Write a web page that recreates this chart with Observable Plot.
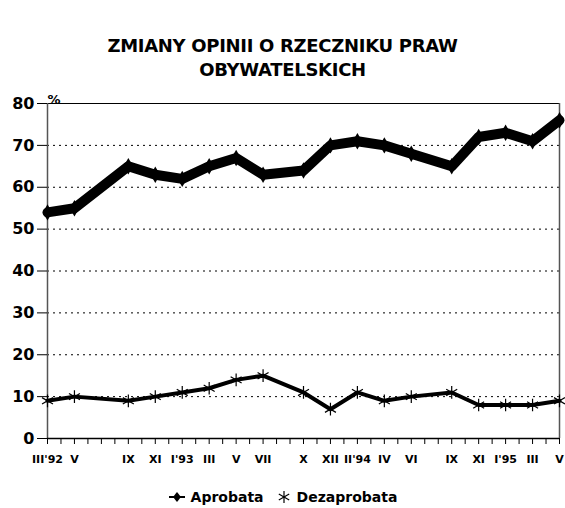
<!DOCTYPE html>
<html>
<head>
<meta charset="utf-8">
<script src="https://cdn.jsdelivr.net/npm/d3@7"></script>
<script src="https://cdn.jsdelivr.net/npm/@observablehq/plot@0.6"></script>
<style>
  html, body { margin: 0; padding: 0; background: #fff; }
  #wrap { position: relative; width: 565px; height: 508px; overflow: hidden; font-family: "DejaVu Sans", sans-serif; background: #fff; }
  #title { position: absolute; top: 34px; left: 0; width: 565px; text-align: center; font-weight: bold; font-size: 18px; line-height: 24px; color: #000; letter-spacing: -0.3px; z-index: 2; }
  #chart { position: absolute; top: 58px; left: 0; z-index: 1; }
  #legend { position: absolute; top: 484px; left: 0; width: 565px; height: 26px; display: flex; justify-content: center; align-items: center; font-weight: bold; font-size: 14px; color: #000; z-index: 2; }
  #legend .item { display: flex; align-items: center; }
  #legend svg { margin-right: 5px; }
</style>
</head>
<body>
<div id="wrap">
  <div id="title">ZMIANY OPINII O RZECZNIKU PRAW<br>OBYWATELSKICH</div>
  <div id="chart"></div>
  <div id="legend"></div>
</div>
<script>
// Survey periods (year-month), their axis labels and values (%)
const periods = ["1992-03","1992-05","1992-09","1992-11","1993-01","1993-03","1993-05","1993-07","1993-10","1993-12","1994-02","1994-04","1994-06","1994-09","1994-11","1995-01","1995-03","1995-05"];
const tickLabels = ["III'92","V","IX","XI","I'93","III","V","VII","X","XII","II'94","IV","VI","IX","XI","I'95","III","V"];
const aprobata = [54,55,65,63,62,65,67,63,64,70,71,70,68,65,72,73,71,76];
const dezaprobata = [9,10,9,10,11,12,14,15,11,7,11,9,10,11,8,8,8,9];
const seriesNames = ["Aprobata","Dezaprobata"];
const yTicks = [0,10,20,30,40,50,60,70,80];

const monthIndex = p => { const [y, m] = p.split("-").map(Number); return (y - 1992) * 12 + (m - 3); };
const idx = periods.map(monthIndex);
const lastIdx = idx[idx.length - 1];
const labelAt = new Map(idx.map((v, i) => [v, tickLabels[i]]));

const rowsA = periods.map((p, i) => ({m: idx[i], v: aprobata[i]}));
const rowsD = periods.map((p, i) => ({m: idx[i], v: dezaprobata[i]}));

const chart = Plot.plot({
  width: 565,
  height: 422,
  marginLeft: 47,
  marginRight: 6,
  marginTop: 45,
  marginBottom: 42,
  style: {fontFamily: "DejaVu Sans, sans-serif", background: "transparent", overflow: "visible"},
  x: {type: "linear", domain: [0, lastIdx], axis: null},
  y: {domain: [0, 80], axis: null},
  marks: [
    Plot.ruleY(yTicks.filter(t => t > 0 && t < 80), {stroke: "#000", strokeWidth: 1, strokeDasharray: "2,4"}),
    Plot.ruleY([80], {stroke: "#000", strokeWidth: 1}),
    Plot.ruleX([lastIdx], {y1: 0, y2: 80, stroke: "#555", strokeWidth: 1.5}),
    Plot.ruleX([0], {y1: 0, y2: 80, stroke: "#555", strokeWidth: 1.5}),
    Plot.axisY({ticks: yTicks, label: null, tickSize: 10, tickPadding: 3, fontSize: 16, fontWeight: "bold", stroke: "#000", tickFormat: d => String(d)}),
    Plot.ruleY([0], {stroke: "#000", strokeWidth: 1.5}),
    Plot.axisX({ticks: d3.range(0, lastIdx + 1), label: null, tickSize: 6, tickPadding: 11, fontSize: 11, fontWeight: "bold", stroke: "#000",
      tickFormat: d => labelAt.get(d) ?? "", style: {letterSpacing: "-0.6px"}}),
    Plot.text([seriesNames[0]], {frameAnchor: "top-left", text: () => "%", dx: 0, dy: -9, fontSize: 13, fontWeight: "bold", textAnchor: "start"}),
    Plot.line(rowsD, {x: "m", y: "v", stroke: "#000", strokeWidth: 4, strokeLinejoin: "round", strokeLinecap: "round"}),
    Plot.dot(rowsD, {x: "m", y: "v", symbol: "asterisk", r: 6, stroke: "#000", strokeWidth: 1.2}),
    Plot.line(rowsA, {x: "m", y: "v", stroke: "#000", strokeWidth: 10, strokeLinejoin: "round", strokeLinecap: "round"}),
    Plot.dot(rowsA, {x: "m", y: "v", symbol: "diamond", r: 5, fill: "#000"})
  ]
});
document.getElementById("chart").appendChild(chart);

// Legend
const legend = document.getElementById("legend");
const sw1 = `<svg width="18" height="12" viewBox="0 0 18 12"><line x1="1" y1="6" x2="17" y2="6" stroke="#000" stroke-width="2"/><path d="M9 1 L13 6 L9 11 L5 6 Z" fill="#000"/></svg>`;
const sw2 = `<svg width="16" height="14" viewBox="0 0 16 14"><g stroke="#000" stroke-width="1.2"><line x1="8" y1="1" x2="8" y2="13"/><line x1="2.8" y1="4" x2="13.2" y2="10"/><line x1="2.8" y1="10" x2="13.2" y2="4"/></g></svg>`;
legend.innerHTML = `<span class="item">${sw1}${seriesNames[0]}</span><span class="item" style="margin-left:12px">${sw2}${seriesNames[1]}</span>`;
</script>
</body>
</html>
